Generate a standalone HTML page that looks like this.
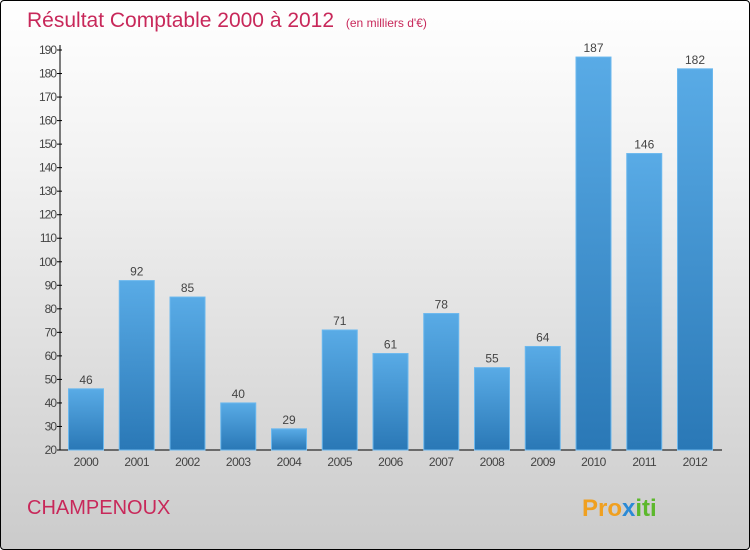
<!DOCTYPE html>
<html><head><meta charset="utf-8"><style>
body{margin:0;width:750px;height:550px;overflow:hidden;font-family:"Liberation Sans",sans-serif}
#wrap{position:absolute;left:0;top:0;width:748px;height:548px;border:1px solid #000;border-radius:4px;background:linear-gradient(#fff,#f2f2f2 30%,#cbcbcb)}
</style></head><body>
<div id="wrap">
<svg width="750" height="550" style="position:absolute;left:-1px;top:-1px">
<defs><linearGradient id="bg" x1="0" y1="0" x2="0" y2="1"><stop offset="0" stop-color="#59abe6"/><stop offset="1" stop-color="#2a78b6"/></linearGradient></defs>
<text x="27" y="27" font-size="21" fill="#c8285a">Résultat Comptable 2000 à 2012 <tspan font-size="12" dx="6">(en milliers d'€)</tspan></text>
<g id="axes"></g><g id="bars"></g>
<text x="27" y="514" font-size="20" fill="#c8285a">CHAMPENOUX</text>
<text x="582" y="516" font-size="24" font-weight="bold" fill="#f0a020">Pro<tspan fill="#2a8ad6">x</tspan><tspan fill="#5cb82c">iti</tspan></text>
</svg></div>
<script>
const years=["2000","2001","2002","2003","2004","2005","2006","2007","2008","2009","2010","2011","2012"];
const values=[46,92,85,40,29,71,61,78,55,64,187,146,182];
const ticks=[20,30,40,50,60,70,80,90,100,110,120,130,140,150,160,170,180,190];
const NS="http://www.w3.org/2000/svg";
const y=v=>450-(v-20)*400/170, x=i=>86+i*50.75;
const ax=document.getElementById('axes'),bg=document.getElementById('bars');
function mk(t,a,p){const e=document.createElementNS(NS,t);for(const k in a)e.setAttribute(k,a[k]);p.appendChild(e);return e;}
const yl=mk('line',{x1:60,y1:45,x2:60,y2:450,stroke:'#000'},ax);


const xl=mk('line',{x1:60,y1:450,x2:722,y2:450,stroke:'#000'},ax);


ticks.forEach(t=>{mk('line',{x1:57,x2:62,y1:y(t),y2:y(t),stroke:'#000'},ax);
const tx=mk('text',{x:56,y:y(t)+4,'text-anchor':'end','font-size':12,fill:'#444','letter-spacing':'-1'},ax);tx.textContent=t;

});
years.forEach((yr,i)=>{const v=values[i];
const r=mk('rect',{x:x(i)-17.5,y:y(v),width:35,height:450-y(v),fill:'url(#bg)',stroke:'#6bb8ee','stroke-width':1},bg);


const l=mk('text',{x:x(i),y:y(v)-5,'text-anchor':'middle','font-size':12,fill:'#444'},bg);l.textContent=v;


const xt=mk('text',{x:x(i),y:466,'text-anchor':'middle','font-size':12,fill:'#444','letter-spacing':'-0.5'},bg);xt.textContent=yr;

});
</script>
</body></html>
